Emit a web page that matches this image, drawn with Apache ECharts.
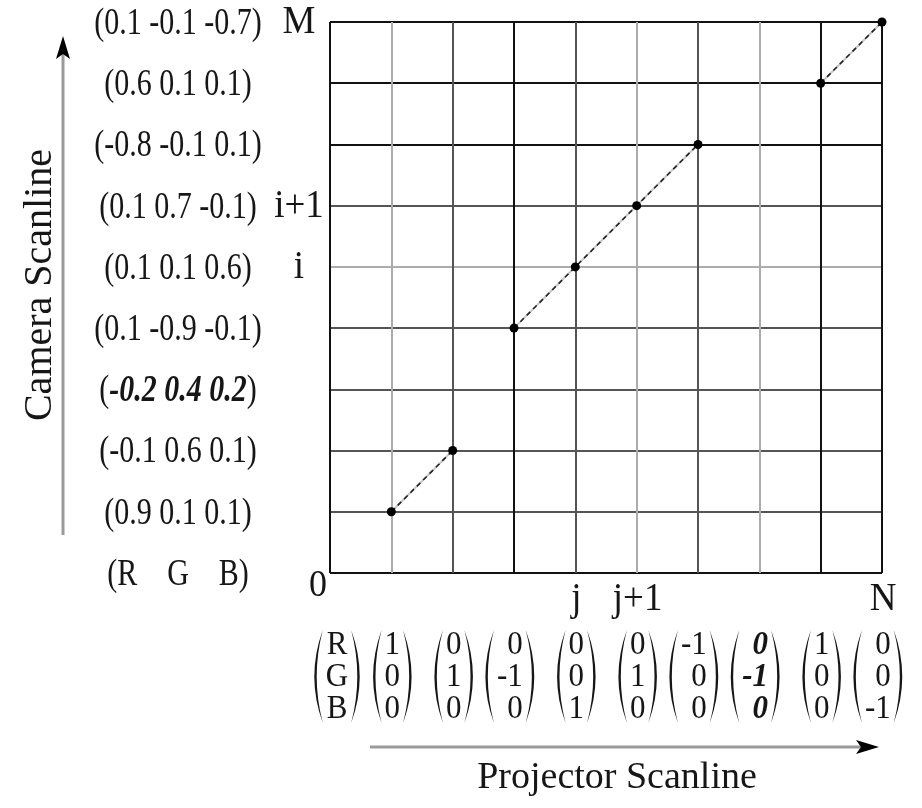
<!DOCTYPE html>
<html><head><meta charset="utf-8">
<script src="https://cdn.jsdelivr.net/npm/echarts@6/dist/echarts.min.js"></script>
<style>html,body{margin:0;padding:0;background:#fff}#c{width:922px;height:808px}</style>
</head><body><div id="c"></div>
<script>
// ---- data ----
const cameraCodes = ['(R    G    B)', '(0.9 0.1 0.1)', '(-0.1 0.6 0.1)', '(-0.2 0.4 0.2)', '(0.1 -0.9 -0.1)',
  '(0.1 0.1 0.6)', '(0.1 0.7 -0.1)', '(-0.8 -0.1 0.1)', '(0.6 0.1 0.1)', '(0.1 -0.1 -0.7)'];
const boldCameraRow = 3;
const rowMarks = [[5, 'i'], [6, 'i+1'], [9, 'M']];
const originLabel = '0';
const colMarks = [[4, 'j'], [5, 'j+1'], [9, 'N']];
const projectorCodes = [['R', 'G', 'B'], ['1', '0', '0'], ['0', '1', '0'], ['0', '-1', '0'], ['0', '0', '1'],
  ['0', '1', '0'], ['-1', '0', '0'], ['0', '-1', '0'], ['1', '0', '0'], ['0', '0', '-1']];
const boldProjectorCol = 7;
const matchedSegments = [
  [[1, 1], [2, 2]],
  [[3, 4], [4, 5], [5, 6], [6, 7]],
  [[8, 8], [9, 9]]
];
const gridCount = 9;

// ---- styles ----
const BLACK = '#111', DARK = '#555', LIGHT = '#acacac';
const verticalLineColors = [BLACK, LIGHT, DARK, BLACK, DARK, LIGHT, DARK, LIGHT, BLACK, BLACK];
const horizontalLineColors = [BLACK, DARK, DARK, DARK, DARK, LIGHT, DARK, BLACK, BLACK, BLACK];
const FONT = '"Liberation Serif", "Times New Roman", serif';
const TXT = '#161616';

const mctx = document.createElement('canvas').getContext('2d');
function measure(t, font) { mctx.font = font; return mctx.measureText(t).width; }

function textEl(x, y, text, fs, sy, extra) {
  return {
    type: 'text', x: x, y: y, scaleY: sy,
    style: Object.assign({ text: text, fill: TXT, fontSize: fs, fontFamily: FONT, align: 'center', verticalAlign: 'middle' }, extra || {})
  };
}
function parenPath(px, ty, by, dir) {
  const my = (ty + by) / 2, b = 8.5 * dir, t = 2.4 * dir;
  return 'M' + px + ',' + ty + ' Q' + (px - 2 * b) + ',' + my + ' ' + px + ',' + by +
    ' Q' + (px - 2 * b + 2 * t) + ',' + my + ' ' + px + ',' + ty + ' Z';
}

const chart = echarts.init(document.getElementById('c'), null, { renderer: 'canvas' });

const series = [];
matchedSegments.forEach(function (seg) {
  series.push({ type: 'line', data: seg, symbol: 'none', silent: true, z: 3,
    lineStyle: { color: '#c8c8c8', width: 2 } });
  series.push({ type: 'line', data: seg, symbol: 'circle', symbolSize: 9, silent: true, z: 4,
    itemStyle: { color: '#000' }, lineStyle: { color: '#222', width: 1.6, type: [5, 4] } });
});

// camera row codes
series.push({
  type: 'custom', clip: false, silent: true, z: 5,
  data: cameraCodes.map(function (_, i) { return [0, i]; }),
  renderItem: function (params, api) {
    const i = params.dataIndex;
    const p = api.coord([0, i]);
    const t = cameraCodes[i];
    if (i === boldCameraRow) {
      const inner = t.slice(1, -1);
      return textEl(p[0] - 152, p[1] + 2, '(' + '{b|' + inner + '}' + ')', 30, 1.25,
        { rich: { b: { fontSize: 30, fontFamily: FONT, fontWeight: 'bold', fontStyle: 'italic', fill: TXT } } });
    }
    return textEl(p[0] - 152, p[1] + 2, t, 30, 1.25);
  }
});
// row marks
series.push({
  type: 'custom', clip: false, silent: true, z: 5,
  data: rowMarks.map(function (r) { return [0, r[0]]; }),
  renderItem: function (params, api) {
    const r = rowMarks[params.dataIndex];
    const p = api.coord([0, r[0]]);
    return textEl(p[0] - 31, p[1] + 1, r[1], 37, 1.08);
  }
});
// origin
series.push({
  type: 'custom', clip: false, silent: true, z: 5,
  data: [[0, 0]],
  renderItem: function (params, api) {
    const p = api.coord([0, 0]);
    return textEl(p[0] - 12, p[1] + 13, originLabel, 36, 1.08);
  }
});
// column marks
series.push({
  type: 'custom', clip: false, silent: true, z: 5,
  data: colMarks.map(function (c) { return [c[0], 0]; }),
  renderItem: function (params, api) {
    const c = colMarks[params.dataIndex];
    const p = api.coord([c[0], 0]);
    return textEl(p[0] + 1, p[1] + 27, c[1], 37, 1.08);
  }
});
// projector codes (vectors)
series.push({
  type: 'custom', clip: false, silent: true, z: 5,
  data: projectorCodes.map(function (_, c) { return [c, 0]; }),
  renderItem: function (params, api) {
    const c = params.dataIndex;
    const entries = projectorCodes[c];
    const bold = c === boldProjectorCol;
    const fs = 31;
    const font = (bold ? 'italic bold ' : '') + fs + 'px ' + FONT;
    const p = api.coord([c, 0]);
    const maxW = Math.max.apply(null, entries.map(function (t) { return measure(t, font); }));
    const digitW = measure('0', font);
    const header = c === 0;
    const right = header ? p[0] + 7 + maxW / 2 : p[0] + digitW / 2 + 1;
    const left = right - maxW;
    const rowY = [p[1] + 72, p[1] + 104, p[1] + 136];
    const children = entries.map(function (t, k) {
      return textEl(header ? (left + right) / 2 : right, rowY[k], t, fs, 1.08,
        bold ? { fontWeight: 'bold', fontStyle: 'italic', align: header ? 'center' : 'right' } : { align: header ? 'center' : 'right' });
    });
    const ty = p[1] + 57, by = p[1] + 150;
    children.push({ type: 'path', shape: { pathData: parenPath(left - 3, ty, by, 1) }, style: { fill: TXT } });
    children.push({ type: 'path', shape: { pathData: parenPath(right + 3, ty, by, -1) }, style: { fill: TXT } });
    return { type: 'group', children: children };
  }
});

chart.setOption({
  animation: false,
  backgroundColor: '#fff',
  grid: { left: 330, right: 40, top: 22, bottom: 235, containLabel: false },
  xAxis: {
    type: 'value', min: 0, max: gridCount, interval: 1,
    axisLine: { show: false }, axisTick: { show: false }, axisLabel: { show: false },
    splitLine: { show: true, showMinLine: true, showMaxLine: true, lineStyle: { color: verticalLineColors, width: 2 } }
  },
  yAxis: {
    type: 'value', min: 0, max: gridCount, interval: 1,
    axisLine: { show: false }, axisTick: { show: false }, axisLabel: { show: false },
    splitLine: { show: true, showMinLine: true, showMaxLine: true, lineStyle: { color: horizontalLineColors, width: 2 } }
  },
  graphic: [
    { type: 'line', shape: { x1: 63, y1: 535, x2: 63, y2: 52 }, style: { stroke: '#9a9a9a', lineWidth: 3 } },
    { type: 'polygon', shape: { points: [[63, 36], [70, 59], [63, 54], [56, 59]] }, style: { fill: '#000' } },
    { type: 'line', shape: { x1: 370, y1: 747, x2: 862, y2: 747 }, style: { stroke: '#9a9a9a', lineWidth: 3 } },
    { type: 'polygon', shape: { points: [[879, 747], [856, 740], [861, 747], [856, 754]] }, style: { fill: '#000' } },
    { type: 'text', x: 40, y: 285, rotation: Math.PI / 2,
      style: { text: 'Camera Scanline', fill: TXT, fontSize: 40, fontFamily: FONT, align: 'center', verticalAlign: 'middle' } },
    { type: 'text', x: 617, y: 778,
      style: { text: 'Projector Scanline', fill: TXT, fontSize: 38, fontFamily: FONT, align: 'center', verticalAlign: 'middle' } }
  ],
  series: series
});
</script>
</body></html>
